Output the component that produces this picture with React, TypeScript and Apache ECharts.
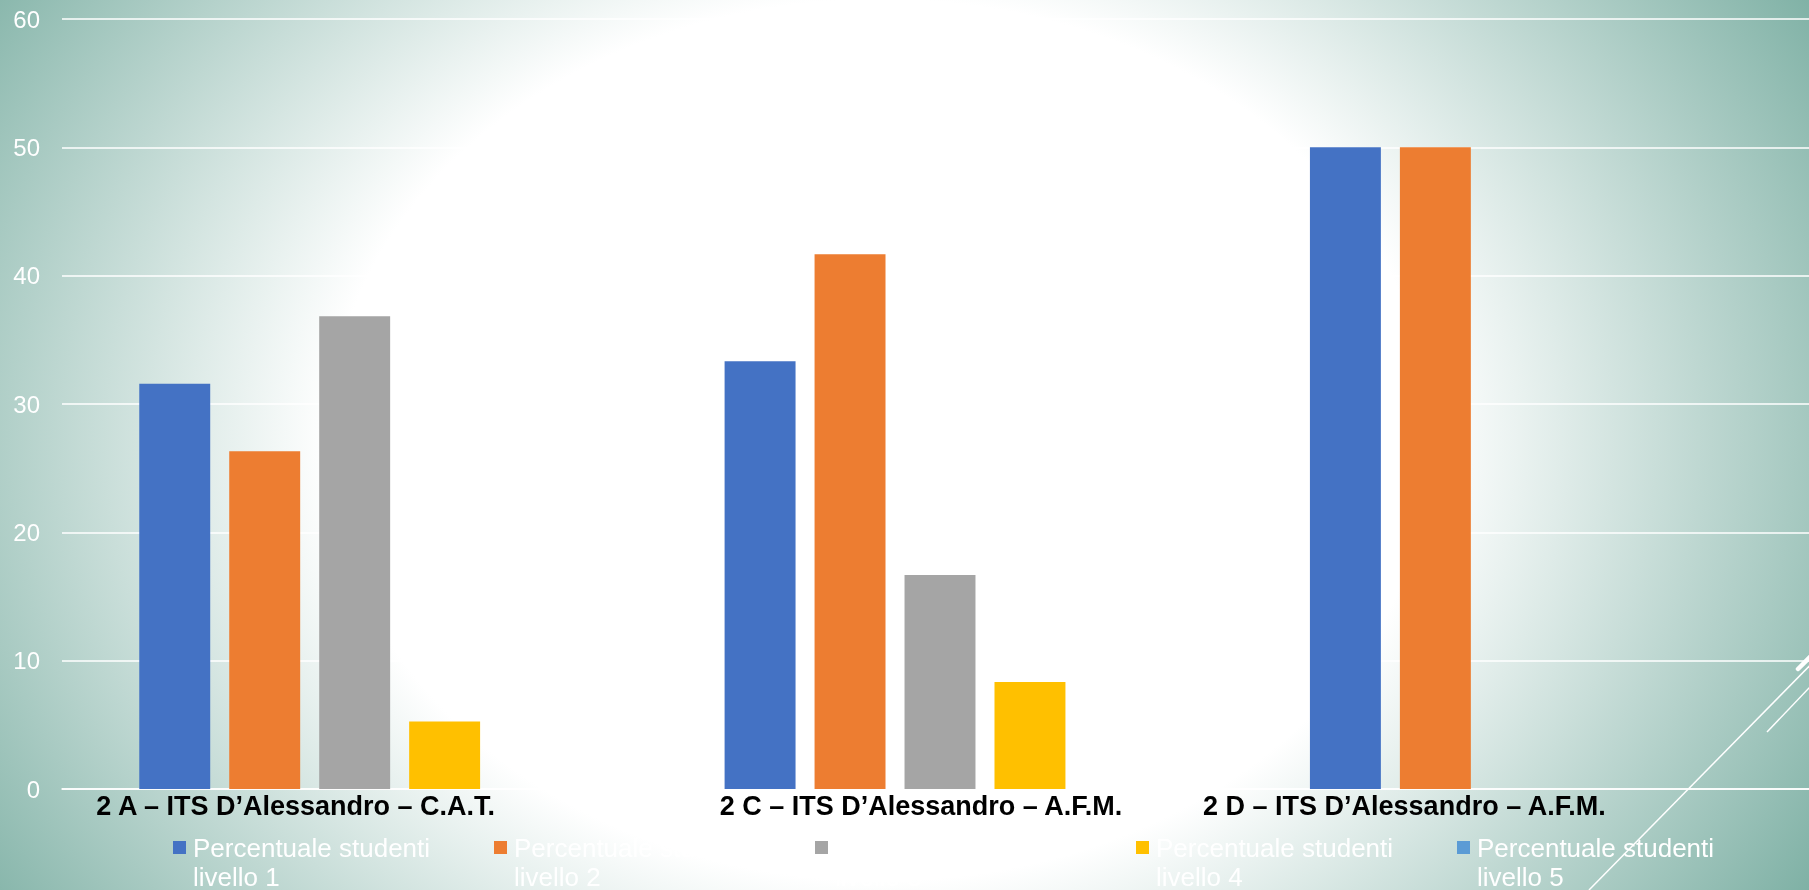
import React, { useEffect, useRef } from 'react';
import * as echarts from 'echarts';

// ---- data ----
const categories = [
  '2 A – ITS D’Alessandro – C.A.T.',
  '2 C – ITS D’Alessandro – A.F.M.',
  '2 D – ITS D’Alessandro – A.F.M.',
];
const seriesNames = [
  'Percentuale studenti livello 1',
  'Percentuale studenti livello 2',
  'Percentuale studenti livello 3',
  'Percentuale studenti livello 4',
  'Percentuale studenti livello 5',
];
const livello1 = [31.58, 33.33, 50];
const livello2 = [26.32, 41.67, 50];
const livello3 = [36.84, 16.67, 0];
const livello4 = [5.26, 8.33, 0];
const livello5 = [0, 0, 0];
const yMin = 0;
const yMax = 60;
const yInterval = 10;

// ---- styles ----
const colors = ['#4472C4', '#ED7D31', '#A5A5A5', '#FFC000', '#5B9BD5'];
const labelShiftRight = [118, 38, 242];

export default function App() {
  const ref = useRef<HTMLDivElement>(null);

  useEffect(() => {
    if (!ref.current) return;
    const chart = echarts.init(ref.current, undefined, { renderer: 'svg' });
    const allData = [livello1, livello2, livello3, livello4, livello5];
    const option: any = {
      animation: false,
      color: colors,
      grid: {
        left: 62,
        top: 19,
        width: 1756,
        height: 770,
        containLabel: false,
        outerBoundsMode: 'none',
      },
      legend: {
        data: seriesNames,
        left: 173,
        top: 804,
        padding: 0,
        itemWidth: 13,
        itemHeight: 13,
        itemGap: 63,
        icon: 'rect',
        // blank first line keeps the first text line level with the marker
        formatter: (name: string) => '\n' + name.replace(' livello', '\nlivello'),
        textStyle: {
          color: '#ffffff',
          fontFamily: 'Liberation Sans, Arial, sans-serif',
          fontSize: 26,
          lineHeight: 29,
          width: 238,
          padding: [0, 0, 0, 2],
        },
      },
      xAxis: {
        type: 'category',
        data: categories.map((c, i) => ({
          value: c,
          textStyle: { padding: [0, labelShiftRight[i], 0, 0] },
        })),
        axisLine: { show: true, lineStyle: { color: '#ffffff', width: 1.5 } },
        axisTick: { show: false },
        axisLabel: {
          interval: 0,
          margin: 3,
          color: '#000000',
          fontFamily: 'Liberation Sans, Arial, sans-serif',
          fontWeight: 'bold',
          fontSize: 27,
          lineHeight: 27,
        },
      },
      yAxis: {
        type: 'value',
        min: yMin,
        max: yMax,
        interval: yInterval,
        axisLine: { show: false },
        axisTick: { show: false },
        splitLine: { show: true, lineStyle: { color: '#ffffff', width: 1.5 } },
        axisLabel: {
          margin: 22,
          color: '#ffffff',
          fontFamily: 'Liberation Sans, Arial, sans-serif',
          fontSize: 24,
        },
      },
      series: seriesNames.map((name, i) => ({
        name,
        type: 'bar',
        data: allData[i],
        barCategoryGap: '26.4%',
        barGap: '26.8%',
        itemStyle: { color: colors[i] },
      })),
      graphic: [
        {
          type: 'line',
          silent: true,
          z: 0,
          shape: { x1: 1589, y1: 890, x2: 1830, y2: 645 },
          style: { stroke: '#ffffff', lineWidth: 1.5 },
        },
        {
          type: 'line',
          silent: true,
          z: 0,
          shape: { x1: 1767, y1: 732, x2: 1830, y2: 666 },
          style: { stroke: '#ffffff', lineWidth: 1.5 },
        },
        {
          type: 'line',
          silent: true,
          z: 0,
          shape: { x1: 1798, y1: 669, x2: 1822, y2: 645 },
          style: { stroke: '#ffffff', lineWidth: 4.5, lineCap: 'round' },
        },
      ],
    };
    chart.setOption(option);
    return () => chart.dispose();
  }, []);

  return (
    <div
      ref={ref}
      style={{
        position: 'fixed',
        left: 0,
        top: 0,
        width: 1809,
        height: 890,
        background:
          'radial-gradient(ellipse 950px 760px at 880px 440px, #ffffff 58%, #72a99c 120%)',
      }}
    />
  );
}
